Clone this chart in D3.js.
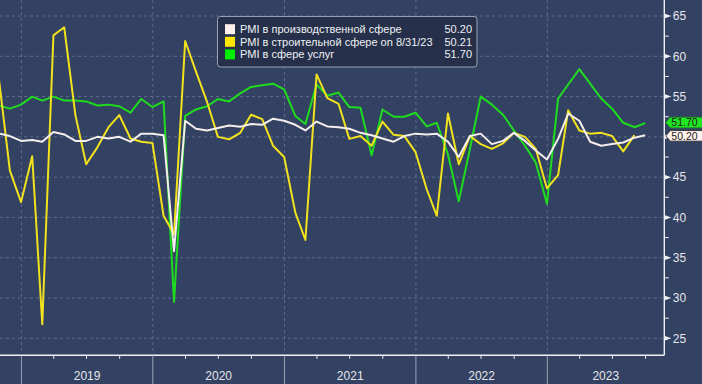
<!DOCTYPE html>
<head>
  <meta charset="utf-8">
  <script src="https://d3js.org/d3.v7.min.js"></script>
  <style>
    body { margin: 0; background: #334162; }
    .grid { stroke: #5d6c8d; stroke-width: 1px; stroke-dasharray: 3,3; }
    .line { fill: none; stroke-width: 2px; stroke-linejoin: round; }
    text { font-family: "Liberation Sans", Arial, sans-serif; }
  </style>
</head>

<body>
  <script>

    // monthly readings, month-end dates starting Oct 2018
    var firstMonth = [2018, 9];
    var manufacturing = [50.4, 50.1, 49.5, 49.6, 49.4, 50.6, 50.3, 49.5, 49.5, 50.0, 49.8, 50.0, 49.4, 50.4,
      50.4, 50.2, 35.8, 52.0, 51.0, 50.8, 51.1, 51.4, 51.25, 51.6, 51.5, 52.25, 52.0, 51.5,
      50.8, 51.9, 51.3, 51.2, 51.0, 50.5, 50.2, 49.8, 49.4, 50.1, 50.4, 50.3, 50.4, 49.4,
      47.5, 50.1, 50.4, 49.1, 49.5, 50.5, 49.5, 48.3, 47.2, 49.75, 52.9, 52.0, 49.4, 48.9,
      49.1, 49.3, 49.9, 50.2];
    var construction = [57.0, 45.8, 41.9, 47.6, 26.75, 62.6, 63.6, 52.7, 46.6, 48.7, 51.2, 52.7, 49.8, 49.4,
      49.25, 40.2, 37.9, 61.9, 58.1, 54.3, 50.0, 49.7, 50.5, 52.75, 52.2, 48.9, 47.5, 40.6,
      37.2, 57.75, 54.8, 54.1, 49.75, 50.1, 48.9, 51.9, 50.25, 50.1, 48.1, 43.5, 40.2, 52.9,
      46.6, 50.1, 49.1, 48.5, 49.2, 50.5, 50.0, 48.5, 43.6, 45.25, 53.3, 50.8, 50.4, 50.5,
      50.1, 48.2, 50.21];
    var services = [53.9, 53.5, 54.0, 55.0, 54.5, 55.0, 54.5, 54.5, 54.4, 53.9, 54.0, 53.8, 53.0, 54.7,
      53.7, 54.4, 29.5, 52.6, 53.4, 53.8, 54.7, 54.4, 55.4, 56.2, 56.4, 56.6, 55.9, 52.6,
      51.6, 56.5, 55.1, 55.5, 53.7, 53.6, 47.7, 53.4, 52.5, 52.5, 53.0, 51.3, 51.75, 47.8,
      42.0, 48.5, 55.0, 54.0, 52.75, 50.8, 48.9, 46.8, 41.7, 54.75, 56.5, 58.4, 56.6, 54.75,
      53.5, 51.75, 51.2, 51.7];

    var seriesNames = ["PMI в производственной сфере", "PMI в строительной сфере on 8/31/23", "PMI в сфере услуг"];
    var lastValues = ["50.20", "50.21", "51.70"];
    var lineColors = ["#f4eeec", "#f2e21e", "#1fdc1f"];
    var swatchColors = ["#fff0ee", "#ffe600", "#00ee00"];
    var years = ["2019", "2020", "2021", "2022", "2023"];
    var yTicks = [25, 30, 35, 40, 45, 50, 55, 60, 65];

    var W = 702, H = 384;
    var right = 664.3, bottom = 355.3;

    var svg = d3.select("body").append("svg")
      .attr("width", W)
      .attr("height", H);

    svg.append("rect").attr("width", W).attr("height", H).attr("fill", "#334162");

    var x = d3.scaleUtc()
      .domain([new Date(Date.UTC(2019, 0, 1)), new Date(Date.UTC(2023, 0, 1))])
      .range([21.4, 547.3]);

    var y = d3.scaleLinear()
      .domain([25, 65])
      .range([338.3, 16]);

    function monthEnd(i) {
      return new Date(Date.UTC(firstMonth[0], firstMonth[1] + i + 1, 0));
    }

    function toPoints(arr) {
      return arr.map(function(v, i) { return { date: monthEnd(i), value: v }; });
    }

    svg.append("clipPath").attr("id", "plot")
      .append("rect").attr("width", right).attr("height", bottom);

    // grid
    svg.selectAll(".hgrid").data(yTicks).enter().append("line")
      .attr("class", "grid")
      .attr("x1", 0).attr("x2", right)
      .attr("y1", function(d) { return y(d); })
      .attr("y2", function(d) { return y(d); });

    var yearStarts = years.map(function(d) { return new Date(Date.UTC(+d, 0, 1)); });

    svg.selectAll(".vgrid").data(yearStarts).enter().append("line")
      .attr("class", "grid")
      .attr("x1", function(d) { return x(d); })
      .attr("x2", function(d) { return x(d); })
      .attr("y1", 0).attr("y2", bottom);

    // lines
    var line = d3.line()
      .x(function(d) { return x(d.date); })
      .y(function(d) { return y(d.value); });

    var g = svg.append("g").attr("clip-path", "url(#plot)");
    [services, construction, manufacturing].forEach(function(s, j) {
      var idx = 2 - j;
      g.append("path")
        .datum(toPoints(s))
        .attr("class", "line")
        .attr("stroke", lineColors[idx])
        .attr("d", line);
    });

    // axes frame
    svg.append("line").attr("x1", 0).attr("x2", right).attr("y1", bottom).attr("y2", bottom)
      .attr("stroke", "#eef0f4").attr("stroke-width", 1.4);
    svg.append("line").attr("x1", right).attr("x2", right).attr("y1", 0).attr("y2", bottom)
      .attr("stroke", "#eef0f4").attr("stroke-width", 1.4);

    // bottom axis: quarter ticks and year dividers
    var quarters = d3.utcMonth.every(3).range(new Date(Date.UTC(2019, 0, 1)), new Date(Date.UTC(2023, 11, 1)))
      .filter(function(d) { return d.getUTCMonth() !== 0 && x(d) < right; });

    svg.selectAll(".qtick").data(quarters).enter().append("line")
      .attr("x1", function(d) { return x(d); })
      .attr("x2", function(d) { return x(d); })
      .attr("y1", bottom).attr("y2", bottom + 3.5)
      .attr("stroke", "#eef0f4").attr("stroke-width", 1);

    svg.selectAll(".ydiv").data(yearStarts).enter().append("line")
      .attr("x1", function(d) { return x(d); })
      .attr("x2", function(d) { return x(d); })
      .attr("y1", bottom).attr("y2", H)
      .attr("stroke", "#9ba3b3").attr("stroke-width", 1);

    svg.selectAll(".ylabel").data(years).enter().append("text")
      .attr("x", function(d, i) {
        var a = x(yearStarts[i]);
        var b = i < years.length - 1 ? x(yearStarts[i + 1]) : right;
        return (a + b) / 2;
      })
      .attr("y", 379.5)
      .attr("text-anchor", "middle")
      .attr("fill", "#e4e6ea")
      .style("font-size", "12px")
      .text(function(d) { return d; });

    // last value tags (they sit over the axis labels)
    var tags = [
      { value: +lastValues[2], text: lastValues[2], fill: "#22e622", stroke: "#1a8a1a", shift: -0.6 },
      { value: +lastValues[0], text: lastValues[0], fill: "#fff4ef", stroke: "#222222", shift: 0.6 }
    ];

    // right axis
    var minor = d3.range(27.5, 65, 5);
    svg.selectAll(".minor").data(minor).enter().append("line")
      .attr("x1", right).attr("x2", right + 4.5)
      .attr("y1", function(d) { return y(d); })
      .attr("y2", function(d) { return y(d); })
      .attr("stroke", "#eef0f4").attr("stroke-width", 1);

    svg.selectAll(".arrow").data(yTicks).enter().append("path")
      .attr("d", function(d) {
        var yy = y(d);
        return "M" + right + "," + (yy - 2.5) + "L" + (right + 7) + "," + yy + "L" + right + "," + (yy + 2.5) + "Z";
      })
      .attr("fill", "#eef0f4");

    // labels hidden behind a tag are not drawn
    var visibleTicks = yTicks.filter(function(d) {
      return tags.every(function(t) { return Math.abs(y(d) - y(t.value)) > 9; });
    });

    svg.selectAll(".rlabel").data(visibleTicks).enter().append("text")
      .attr("x", right + 8.5)
      .attr("y", function(d) { return y(d) + 4.3; })
      .attr("fill", "#e4e6ea")
      .style("font-size", "12px")
      .text(function(d) { return d; });

    tags.forEach(function(t) {
      var cy = y(t.value) + t.shift;
      svg.append("path")
        .attr("d", "M" + (right + 1.5) + "," + cy + "L" + (right + 6) + "," + (cy - 5.3) +
          "L" + (W + 2) + "," + (cy - 5.3) + "L" + (W + 2) + "," + (cy + 5.3) +
          "L" + (right + 6) + "," + (cy + 5.3) + "Z")
        .attr("fill", t.fill)
        .attr("stroke", t.stroke)
        .attr("stroke-width", 0.8);
      svg.append("text")
        .attr("x", right + 7)
        .attr("y", cy + 3.8)
        .attr("fill", "#1a1a1a")
        .style("font-size", "10.5px")
        .text(t.text);
    });

    // legend
    var lg = svg.append("g");
    lg.append("rect")
      .attr("x", 217.5).attr("y", 16.5)
      .attr("width", 259.5).attr("height", 50.5)
      .attr("rx", 3)
      .attr("fill", "#26304a")
      .attr("stroke", "#9aa2b3")
      .attr("stroke-width", 1);

    seriesNames.forEach(function(name, i) {
      var cy = 29.2 + i * 12.6;
      lg.append("rect")
        .attr("x", 225).attr("y", cy - 5)
        .attr("width", 10).attr("height", 10)
        .attr("fill", swatchColors[i]);
      lg.append("text")
        .attr("x", 240).attr("y", cy + 4)
        .attr("fill", "#eef0f4")
        .style("font-size", "11px")
        .text(name);
      lg.append("text")
        .attr("x", 472).attr("y", cy + 4)
        .attr("text-anchor", "end")
        .attr("fill", "#eef0f4")
        .style("font-size", "11px")
        .text(lastValues[i]);
    });

  </script>
</body>
